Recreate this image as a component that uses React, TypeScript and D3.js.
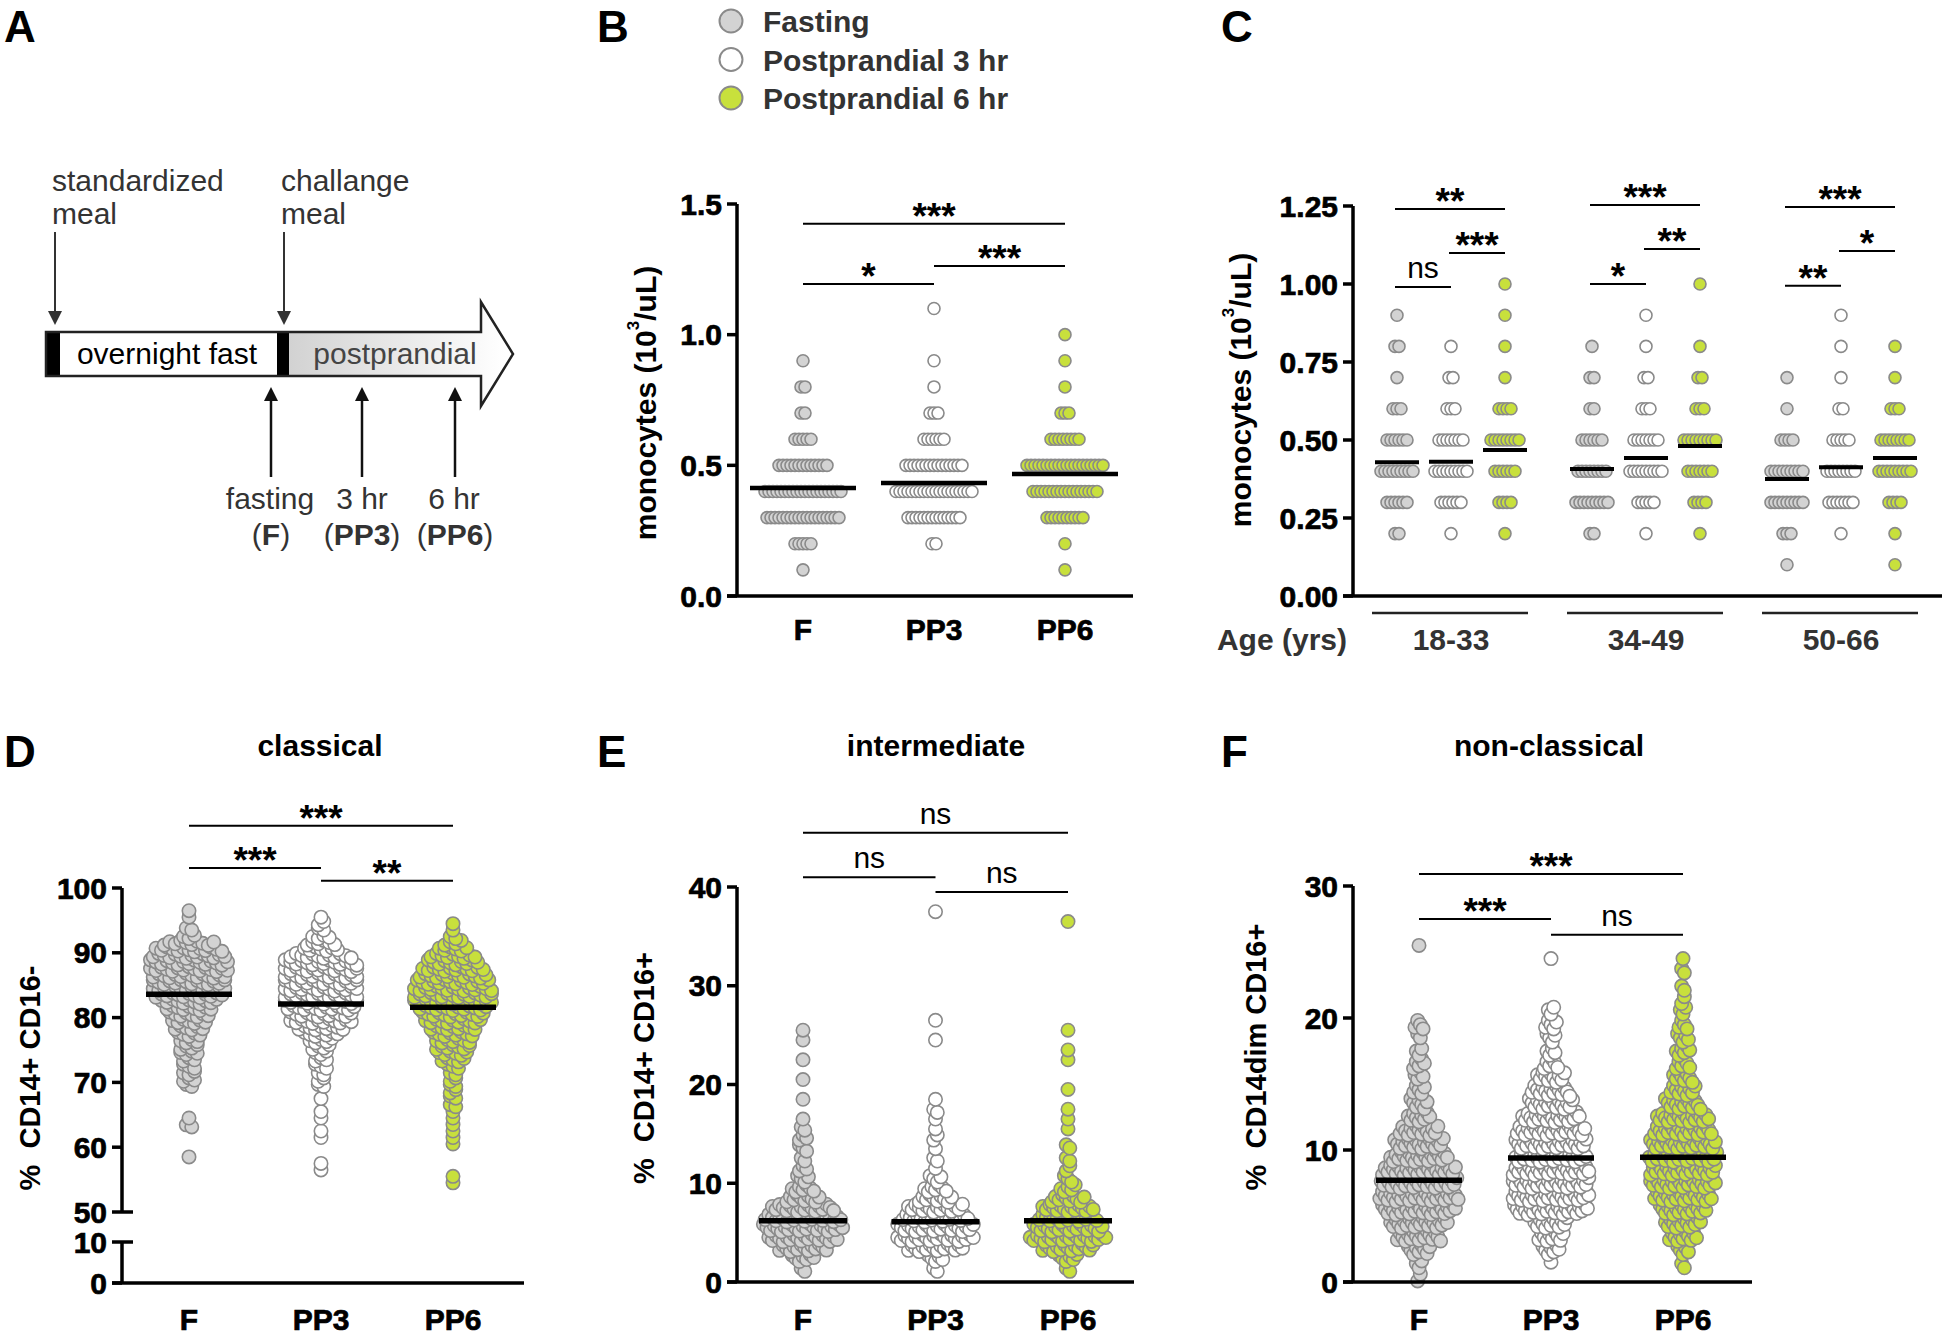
import React from 'react';
import * as d3 from 'd3';

const FONT = "'Liberation Sans', Arial, Helvetica, sans-serif";
const W = 1944;
const H = 1337;

const timepoints = ['F', 'PP3', 'PP6'];
const groupFills = ['#d3d3d3', '#ffffff', '#c8e03c'];
const legendLabels = ['Fasting', 'Postprandial 3 hr', 'Postprandial 6 hr'];
const DOT_STROKE = '#8a8a8a';

// ---------- Panel B : monocytes, all participants (counts per 0.1 level) ----------
const bLevels = [0.1, 0.2, 0.3, 0.4, 0.5, 0.6, 0.7, 0.8, 0.9, 1.0, 1.1];
const bCountsF = [1, 5, 19, 20, 13, 5, 2, 2, 1, 0, 0];
const bCountsPP3 = [0, 2, 14, 20, 15, 6, 3, 1, 1, 0, 1];
const bCountsPP6 = [1, 1, 10, 17, 20, 8, 3, 1, 1, 1, 0];
const bCenters = [0.413, 0.432, 0.467];
const bTicks = [0, 0.5, 1.0, 1.5];
const bSigPairs = [[0, 2], [0, 1], [1, 2]];
const bSigLabels = ['***', '*', '***'];
const bSigLevels = [1.424, 1.194, 1.263];

// ---------- Panel C : monocytes by age group ----------
const ageGroups = ['18-33', '34-49', '50-66'];
const cLevels = [0.1, 0.2, 0.3, 0.4, 0.5, 0.6, 0.7, 0.8, 0.9, 1.0];
const c1833F = [0, 2, 6, 9, 6, 3, 1, 2, 1, 0];
const c1833PP3 = [0, 1, 6, 9, 7, 3, 2, 1, 0, 0];
const c1833PP6 = [0, 1, 4, 6, 8, 4, 1, 1, 1, 1];
const c3449F = [0, 2, 9, 8, 6, 2, 2, 1, 0, 0];
const c3449PP3 = [0, 1, 5, 9, 7, 3, 2, 1, 1, 0];
const c3449PP6 = [0, 1, 4, 7, 9, 3, 2, 1, 0, 1];
const c5066F = [1, 3, 9, 9, 4, 1, 1, 0, 0, 0];
const c5066PP3 = [0, 1, 7, 8, 5, 2, 1, 1, 1, 0];
const c5066PP6 = [1, 1, 4, 9, 8, 3, 1, 1, 0, 0];
const cCenters1833 = [0.429, 0.43, 0.468];
const cCenters3449 = [0.407, 0.442, 0.481];
const cCenters5066 = [0.375, 0.413, 0.442];
const cTicks = [0, 0.25, 0.5, 0.75, 1.0, 1.25];
const cSigPairs = [[0, 2], [1, 2], [0, 1]];
const cSigLabels1833 = ['**', '***', 'ns'];
const cSigLabels3449 = ['***', '**', '*'];
const cSigLabels5066 = ['***', '*', '**'];
const cSigLevels1833 = [1.24, 1.099, 0.99];
const cSigLevels3449 = [1.253, 1.112, 1.0];
const cSigLevels5066 = [1.247, 1.106, 0.994];

// ---------- Panel D : classical (% CD14+ CD16-), counts per 1% bin starting at 54 ----------
const dBinStart = 54;
const dCountsF = [0, 0, 0, 0, 1, 0, 0, 0, 0, 2, 1, 0, 0, 0, 0, 2, 3, 3, 3, 3, 4, 4, 4, 5, 6, 7, 8, 9, 11, 13, 14, 14, 14, 15, 15, 14, 13, 10, 3, 2, 0, 1, 1];
const dCountsPP3 = [0, 0, 1, 1, 0, 0, 0, 1, 1, 0, 1, 1, 0, 1, 0, 2, 2, 2, 3, 3, 3, 4, 5, 7, 9, 12, 12, 13, 14, 14, 14, 14, 14, 14, 14, 12, 7, 6, 4, 2, 2, 1, 0];
const dCountsPP6 = [1, 1, 0, 0, 0, 0, 1, 1, 1, 1, 1, 1, 2, 2, 2, 2, 2, 2, 3, 5, 6, 7, 7, 8, 9, 11, 12, 13, 15, 15, 15, 14, 13, 12, 10, 9, 6, 4, 2, 1, 1, 0, 0];
const dCenters = [83.6, 82.1, 81.6];
const dTicksUpper = [50, 60, 70, 80, 90, 100];
const dTicksLower = [0, 10];
const dSigPairs = [[0, 2], [0, 1], [1, 2]];
const dSigLabels = ['***', '***', '**'];
const dSigLevels = [109.6, 103.1, 101.1];

// ---------- Panel E : intermediate (% CD14+ CD16+), counts per 1% bin from 0 ----------
const eCountsF = [0, 2, 7, 14, 20, 23, 22, 18, 10, 7, 4, 3, 2, 3, 3, 2, 1, 0, 1, 0, 1, 0, 1, 0, 1, 1, 0, 0, 0, 0, 0, 0, 0, 0, 0, 0, 0, 0];
const eCountsPP3 = [0, 2, 5, 16, 22, 22, 19, 16, 10, 7, 4, 1, 2, 1, 2, 1, 1, 2, 1, 0, 0, 0, 0, 0, 1, 0, 1, 0, 0, 0, 0, 0, 0, 0, 0, 0, 0, 1];
const eCountsPP6 = [0, 2, 6, 15, 22, 20, 17, 15, 10, 5, 3, 2, 2, 2, 0, 1, 1, 1, 0, 1, 0, 0, 1, 1, 0, 1, 0, 0, 0, 0, 0, 0, 0, 0, 0, 0, 1, 0];
const eCenters = [6.2, 6.1, 6.2];
const eTicks = [0, 10, 20, 30, 40];
const eSigPairs = [[0, 2], [0, 1], [1, 2]];
const eSigLabels = ['ns', 'ns', 'ns'];
const eSigLevels = [45.5, 41.0, 39.5];

// ---------- Panel F : non-classical (% CD14dim CD16+), counts per 1% bin from 0 ----------
const fCountsF = [2, 3, 9, 17, 22, 28, 30, 29, 28, 22, 19, 15, 9, 7, 5, 4, 5, 3, 2, 4, 0, 0, 0, 0, 0, 1];
const fCountsPP3 = [0, 1, 7, 10, 13, 28, 29, 29, 29, 27, 27, 26, 22, 17, 15, 11, 6, 4, 4, 5, 3, 0, 0, 0, 1, 0];
const fCountsPP6 = [0, 2, 5, 11, 14, 18, 22, 25, 25, 26, 25, 22, 20, 14, 10, 8, 6, 6, 5, 4, 3, 2, 2, 2, 1, 0];
const fCenters = [7.7, 9.4, 9.45];
const fTicks = [0, 10, 20, 30];
const fSigPairs = [[0, 2], [0, 1], [1, 2]];
const fSigLabels = ['***', '***', 'ns'];
const fSigLevels = [30.9, 27.5, 26.3];

// ---------- layout helpers ----------
type Pt = { v: number; dx: number };

function rowSwarm(levels: number[], counts: number[], sp: number): Pt[] {
  const pts: Pt[] = [];
  levels.forEach((lv, i) => {
    const n = counts[i];
    for (let k = 0; k < n; k++) pts.push({ v: lv, dx: (k - (n - 1) / 2) * sp });
  });
  return pts;
}

function binnedSwarm(counts: number[], start: number, width: number, sp: number): Pt[] {
  const pts: Pt[] = [];
  counts.forEach((n, i) => {
    if (!n) return;
    const lo = start + i * width;
    if (n === 1) {
      pts.push({ v: lo + width / 2, dx: 0 });
      return;
    }
    const phase = (i * 0.381966) % 1;
    for (let k = 0; k < n; k++) {
      const fy = (phase + k * 0.618034) % 1;
      pts.push({ v: lo + width * (0.08 + 0.84 * fy), dx: (k - (n - 1) / 2) * sp });
    }
  });
  return pts;
}

function Dots({ pts, cx, y, fill, r }: { pts: Pt[]; cx: number; y: (v: number) => number; fill: string; r: number }) {
  return (
    <g>
      {pts.map((p, i) => (
        <circle key={i} cx={cx + p.dx} cy={y(p.v)} r={r} fill={fill} stroke={DOT_STROKE} strokeWidth={1.6} />
      ))}
    </g>
  );
}

function Sig({ x1, x2, y, label }: { x1: number; x2: number; y: number; label: string }) {
  const star = label.includes('*');
  return (
    <g>
      <line x1={x1} x2={x2} y1={y} y2={y} stroke="#000" strokeWidth={2} />
      {star ? (
        <text x={(x1 + x2) / 2} y={y + 5} fontSize={37} fontWeight={700} textAnchor="middle" fill="#000">
          {label}
        </text>
      ) : (
        <text x={(x1 + x2) / 2} y={y - 9} fontSize={30} textAnchor="middle" fill="#000">
          {label}
        </text>
      )}
    </g>
  );
}

const heavy = { fontSize: 30, fontWeight: 700, fill: '#000', stroke: '#000', strokeWidth: 0.7 } as const;

function YAxis({ x, y, ticks, fmt, top, bottom }: { x: number; y: (v: number) => number; ticks: number[]; fmt: (v: number) => string; top: number; bottom: number }) {
  return (
    <g>
      <line x1={x} x2={x} y1={y(top)} y2={y(bottom)} stroke="#000" strokeWidth={3.5} />
      {ticks.map((t) => (
        <g key={t}>
          <line x1={x - 10} x2={x} y1={y(t)} y2={y(t)} stroke="#000" strokeWidth={3.5} />
          <text x={x - 15} y={y(t) + 10.5} textAnchor="end" {...heavy}>
            {fmt(t)}
          </text>
        </g>
      ))}
    </g>
  );
}

function CenterLines({ xs, y, vals, hw, sw }: { xs: number[]; y: (v: number) => number; vals: number[]; hw: number; sw: number }) {
  return (
    <g>
      {vals.map((v, i) => (
        <line key={i} x1={xs[i] - hw} x2={xs[i] + hw} y1={y(v)} y2={y(v)} stroke="#000" strokeWidth={sw} />
      ))}
    </g>
  );
}

function CatLabels({ xs, y }: { xs: number[]; y: number }) {
  return (
    <g>
      {timepoints.map((t, i) => (
        <text key={t} x={xs[i]} y={y} textAnchor="middle" {...heavy}>
          {t}
        </text>
      ))}
    </g>
  );
}

function YLabel({ x, y, text }: { x: number; y: number; text: string }) {
  return (
    <text transform={`translate(${x},${y}) rotate(-90)`} textAnchor="middle" dominantBaseline="central" fontSize={29} fontWeight={700} fill="#000" style={{ whiteSpace: 'pre' }}>
      {text}
    </text>
  );
}

function MonoLabel({ x, y }: { x: number; y: number }) {
  return (
    <text transform={`translate(${x},${y}) rotate(-90)`} textAnchor="middle" dominantBaseline="central" fontSize={30} fontWeight={700} fill="#000">
      monocytes (10<tspan dy={-12} fontSize={17}>3</tspan>
      <tspan dy={12}>/uL)</tspan>
    </text>
  );
}

function PanelLetter({ x, y, t }: { x: number; y: number; t: string }) {
  return (
    <text x={x} y={y} fontSize={44} fontWeight={700} fill="#000">
      {t}
    </text>
  );
}

// ---------- Panel A ----------
function PanelA() {
  const downX = [55, 284];
  const upX = [271, 362, 455];
  const barTop = 332;
  const barBot = 376;
  const mid = (barTop + barBot) / 2;
  const headTop = 302;
  const headBot = 406;
  const outline = `M46,${barTop} H481 V${headTop} L513,${mid} L481,${headBot} V${barBot} H46 Z`;
  const grad = `M289,${barTop} H481 V${headTop} L513,${mid} L481,${headBot} V${barBot} H289 Z`;
  return (
    <g>
      <defs>
        <linearGradient id="ppGrad" gradientUnits="userSpaceOnUse" x1={289} x2={505} y1={0} y2={0}>
          <stop offset="0" stopColor="#d2d2d2" />
          <stop offset="1" stopColor="#ffffff" />
        </linearGradient>
      </defs>
      <PanelLetter x={4} y={42} t="A" />
      <g fontSize={30} fill="#333">
        <text x={52} y={191}>standardized</text>
        <text x={52} y={224}>meal</text>
        <text x={281} y={191}>challange</text>
        <text x={281} y={224}>meal</text>
      </g>
      {downX.map((x) => (
        <g key={x}>
          <line x1={x} x2={x} y1={232} y2={314} stroke="#333" strokeWidth={2} />
          <path d={`M${x - 7},311 L${x + 7},311 L${x},325 Z`} fill="#333" />
        </g>
      ))}
      <path d={outline} fill="#fff" />
      <path d={grad} fill="url(#ppGrad)" />
      <rect x={46} y={barTop} width={14} height={barBot - barTop} fill="#000" />
      <rect x={277} y={barTop} width={12} height={barBot - barTop} fill="#000" />
      <path d={outline} fill="none" stroke="#222" strokeWidth={2.5} strokeLinejoin="miter" />
      <text x={167} y={364} fontSize={30} textAnchor="middle" fill="#000">overnight fast</text>
      <text x={395} y={364} fontSize={30} textAnchor="middle" fill="#444">postprandial</text>
      {upX.map((x) => (
        <g key={x}>
          <line x1={x} x2={x} y1={477} y2={398} stroke="#111" strokeWidth={2.5} />
          <path d={`M${x - 7},401 L${x + 7},401 L${x},387 Z`} fill="#111" />
        </g>
      ))}
      <g fontSize={30} fill="#333" textAnchor="middle">
        <text x={270} y={509}>fasting</text>
        <text x={271} y={545}>(<tspan fontWeight={700}>F</tspan>)</text>
        <text x={362} y={509}>3 hr</text>
        <text x={362} y={545}>(<tspan fontWeight={700}>PP3</tspan>)</text>
        <text x={454} y={509}>6 hr</text>
        <text x={455} y={545}>(<tspan fontWeight={700}>PP6</tspan>)</text>
      </g>
    </g>
  );
}

// ---------- Panel B ----------
function PanelB() {
  const ax = 737;
  const y = d3.scaleLinear().domain([0, 1.5]).range([596, 204]);
  const x = d3.scalePoint<string>().domain(timepoints).range([803, 1065]);
  const xs = timepoints.map((t) => x(t) as number);
  const counts = [bCountsF, bCountsPP3, bCountsPP6];
  return (
    <g>
      <PanelLetter x={597} y={42} t="B" />
      {legendLabels.map((l, i) => (
        <g key={l}>
          <circle cx={731} cy={21 + i * 38.5} r={11.5} fill={groupFills[i]} stroke={DOT_STROKE} strokeWidth={2} />
          <text x={763} y={32 + i * 38.5} fontSize={30} fontWeight={700} fill="#333">{l}</text>
        </g>
      ))}
      {counts.map((c, i) => (
        <Dots key={i} pts={rowSwarm(bLevels, c, 4)} cx={xs[i]} y={y} fill={groupFills[i]} r={6} />
      ))}
      <CenterLines xs={xs} y={y} vals={bCenters} hw={53} sw={4.5} />
      <line x1={ax - 10} x2={1133} y1={y(0)} y2={y(0)} stroke="#000" strokeWidth={3.5} />
      <YAxis x={ax} y={y} ticks={bTicks} fmt={d3.format('.1f')} top={1.5} bottom={0} />
      <CatLabels xs={xs} y={640} />
      {bSigPairs.map((p, i) => (
        <Sig key={i} x1={xs[p[0]]} x2={xs[p[1]]} y={y(bSigLevels[i])} label={bSigLabels[i]} />
      ))}
      <MonoLabel x={645} y={403} />
    </g>
  );
}

// ---------- Panel C ----------
function PanelC() {
  const ax = 1353;
  const y = d3.scaleLinear().domain([0, 1.25]).range([596, 206]);
  const gx = d3.scalePoint<string>().domain(ageGroups).range([1451, 1841]);
  const tx = d3.scalePoint<string>().domain(timepoints).range([-54, 54]);
  const counts = [
    [c1833F, c1833PP3, c1833PP6],
    [c3449F, c3449PP3, c3449PP6],
    [c5066F, c5066PP3, c5066PP6],
  ];
  const centers = [cCenters1833, cCenters3449, cCenters5066];
  const sigLabels = [cSigLabels1833, cSigLabels3449, cSigLabels5066];
  const sigLevels = [cSigLevels1833, cSigLevels3449, cSigLevels5066];
  return (
    <g>
      <PanelLetter x={1221} y={42} t="C" />
      {ageGroups.map((g, gi) => {
        const gc = gx(g) as number;
        const xs = timepoints.map((t) => gc + (tx(t) as number));
        return (
          <g key={g}>
            {counts[gi].map((c, i) => (
              <Dots key={i} pts={rowSwarm(cLevels, c, 4)} cx={xs[i]} y={y} fill={groupFills[i]} r={6} />
            ))}
            <CenterLines xs={xs} y={y} vals={centers[gi]} hw={22} sw={4} />
            {cSigPairs.map((p, i) => (
              <Sig key={i} x1={xs[p[0]] - 2} x2={xs[p[1]]} y={y(sigLevels[gi][i])} label={sigLabels[gi][i]} />
            ))}
            <line x1={gc - 79} x2={gc + 77} y1={613} y2={613} stroke="#222" strokeWidth={2.5} />
            <text x={gc} y={650} textAnchor="middle" fontSize={30} fontWeight={700} fill="#333">{g}</text>
          </g>
        );
      })}
      <text x={1347} y={650} textAnchor="end" fontSize={30} fontWeight={700} fill="#333">Age (yrs)</text>
      <line x1={ax - 10} x2={1942} y1={y(0)} y2={y(0)} stroke="#000" strokeWidth={3.5} />
      <YAxis x={ax} y={y} ticks={cTicks} fmt={d3.format('.2f')} top={1.25} bottom={0} />
      <MonoLabel x={1240} y={390} />
    </g>
  );
}

// ---------- Panel D ----------
function PanelD() {
  const ax = 122;
  const yU = d3.scaleLinear().domain([50, 100]).range([1212, 888]);
  const yL = d3.scaleLinear().domain([0, 10]).range([1283, 1242]);
  const x = d3.scalePoint<string>().domain(timepoints).range([189, 453]);
  const xs = timepoints.map((t) => x(t) as number);
  const counts = [dCountsF, dCountsPP3, dCountsPP6];
  return (
    <g>
      <PanelLetter x={4} y={767} t="D" />
      <text x={320} y={756} textAnchor="middle" fontSize={30} fontWeight={700}>classical</text>
      {counts.map((c, i) => (
        <Dots key={i} pts={binnedSwarm(c, dBinStart, 1, 5.5)} cx={xs[i]} y={yU} fill={groupFills[i]} r={6.7} />
      ))}
      <CenterLines xs={xs} y={yU} vals={dCenters} hw={43} sw={5.5} />
      <line x1={ax} x2={ax} y1={yU(100)} y2={yU(50)} stroke="#000" strokeWidth={3.5} />
      <line x1={ax} x2={ax} y1={yL(10)} y2={yL(0)} stroke="#000" strokeWidth={3.5} />
      {dTicksUpper.map((t) => (
        <g key={'u' + t}>
          <line x1={ax - 10} x2={t === 50 ? ax + 11 : ax} y1={yU(t)} y2={yU(t)} stroke="#000" strokeWidth={3.5} />
          <text x={ax - 15} y={yU(t) + 10.5} textAnchor="end" {...heavy}>{t}</text>
        </g>
      ))}
      {dTicksLower.map((t) => (
        <g key={'l' + t}>
          <line x1={ax - 10} x2={t === 10 ? ax + 11 : ax} y1={yL(t)} y2={yL(t)} stroke="#000" strokeWidth={3.5} />
          <text x={ax - 15} y={yL(t) + 10.5} textAnchor="end" {...heavy}>{t}</text>
        </g>
      ))}
      <line x1={ax - 10} x2={524} y1={yL(0)} y2={yL(0)} stroke="#000" strokeWidth={3.5} />
      <CatLabels xs={xs} y={1330} />
      {dSigPairs.map((p, i) => (
        <Sig key={i} x1={xs[p[0]]} x2={xs[p[1]]} y={yU(dSigLevels[i])} label={dSigLabels[i]} />
      ))}
      <YLabel x={30} y={1078} text="%  CD14+ CD16-" />
    </g>
  );
}

// ---------- Panel E ----------
function PanelE() {
  const ax = 737;
  const y = d3.scaleLinear().domain([0, 40]).range([1282, 887]);
  const x = d3.scalePoint<string>().domain(timepoints).range([803, 1068]);
  const xs = timepoints.map((t) => x(t) as number);
  const counts = [eCountsF, eCountsPP3, eCountsPP6];
  return (
    <g>
      <PanelLetter x={597} y={767} t="E" />
      <text x={936} y={756} textAnchor="middle" fontSize={30} fontWeight={700}>intermediate</text>
      {counts.map((c, i) => (
        <Dots key={i} pts={binnedSwarm(c, 0, 1, 3.6)} cx={xs[i]} y={y} fill={groupFills[i]} r={6.7} />
      ))}
      <CenterLines xs={xs} y={y} vals={eCenters} hw={44} sw={5.5} />
      <line x1={ax - 10} x2={1134} y1={y(0)} y2={y(0)} stroke="#000" strokeWidth={3.5} />
      <YAxis x={ax} y={y} ticks={eTicks} fmt={d3.format('d')} top={40} bottom={0} />
      <CatLabels xs={xs} y={1330} />
      {eSigPairs.map((p, i) => (
        <Sig key={i} x1={xs[p[0]]} x2={xs[p[1]]} y={y(eSigLevels[i])} label={eSigLabels[i]} />
      ))}
      <YLabel x={644} y={1068} text="%  CD14+ CD16+" />
    </g>
  );
}

// ---------- Panel F ----------
function PanelF() {
  const ax = 1353;
  const y = d3.scaleLinear().domain([0, 30]).range([1282, 886]);
  const x = d3.scalePoint<string>().domain(timepoints).range([1419, 1683]);
  const xs = timepoints.map((t) => x(t) as number);
  const counts = [fCountsF, fCountsPP3, fCountsPP6];
  return (
    <g>
      <PanelLetter x={1221} y={767} t="F" />
      <text x={1549} y={756} textAnchor="middle" fontSize={30} fontWeight={700}>non-classical</text>
      {counts.map((c, i) => (
        <Dots key={i} pts={binnedSwarm(c, 0, 1, 2.7)} cx={xs[i]} y={y} fill={groupFills[i]} r={6.7} />
      ))}
      <CenterLines xs={xs} y={y} vals={fCenters} hw={43} sw={5.5} />
      <line x1={ax - 10} x2={1752} y1={y(0)} y2={y(0)} stroke="#000" strokeWidth={3.5} />
      <YAxis x={ax} y={y} ticks={fTicks} fmt={d3.format('d')} top={30} bottom={0} />
      <CatLabels xs={xs} y={1330} />
      {fSigPairs.map((p, i) => (
        <Sig key={i} x1={xs[p[0]]} x2={xs[p[1]]} y={y(fSigLevels[i])} label={fSigLabels[i]} />
      ))}
      <YLabel x={1256} y={1057} text="%  CD14dim CD16+" />
    </g>
  );
}

export default function App() {
  return (
    <svg
      width={W}
      height={H}
      viewBox={`0 0 ${W} ${H}`}
      style={{ position: 'absolute', left: 0, top: 0, background: '#fff' }}
      fontFamily={FONT}
    >
      <rect x={0} y={0} width={W} height={H} fill="#fff" />
      <PanelA />
      <PanelB />
      <PanelC />
      <PanelD />
      <PanelE />
      <PanelF />
    </svg>
  );
}
